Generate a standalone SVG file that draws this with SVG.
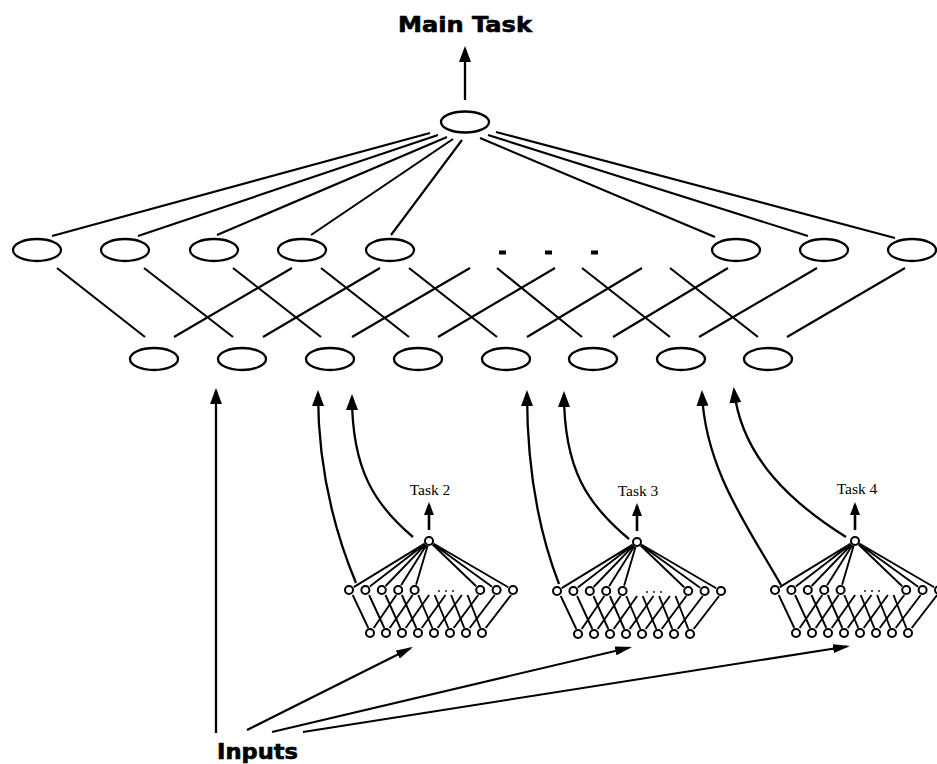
<svg xmlns="http://www.w3.org/2000/svg" xmlns:xlink="http://www.w3.org/1999/xlink" width="937" height="764" viewBox="0 0 937 764">
<style>
.bg{fill:#ffffff}
.node{fill:none;stroke:#000;stroke-width:2.3}
.snode{fill:none;stroke:#000;stroke-width:2}
.edge{fill:none;stroke:#000;stroke-width:2.1}
.sedge{fill:none;stroke:#000;stroke-width:1.9}
.arr{fill:none;stroke:#000;stroke-width:2.3;marker-end:url(#bigArrow)}
.inarr{fill:none;stroke:#000;stroke-width:2.1;marker-end:url(#inArrow)}
.sarr{fill:none;stroke:#000;stroke-width:2.6;marker-end:url(#smallArrow)}
.big{font-family:"DejaVu Sans","Liberation Sans",sans-serif;font-weight:bold;font-size:20.5px;fill:#000;stroke:#000;stroke-width:0.6}
.task{font-family:"Liberation Serif","Times New Roman",serif;font-size:15.5px;fill:#000}
.dot{fill:#000}
</style>
<defs>
<marker id="bigArrow" markerUnits="userSpaceOnUse" markerWidth="16" markerHeight="12" refX="13" refY="6" orient="auto"><path d="M0,0 L16,6 L0,12 z" fill="#000"/></marker>
<marker id="inArrow" markerUnits="userSpaceOnUse" markerWidth="17" markerHeight="9" refX="14" refY="4.5" orient="auto"><path d="M0,0 L17,4.5 L0,9 z" fill="#000"/></marker>
<marker id="smallArrow" markerUnits="userSpaceOnUse" markerWidth="13" markerHeight="10" refX="10" refY="5" orient="auto"><path d="M0,0 L13,5 L0,10 z" fill="#000"/></marker>
<g id="subnet">
<circle class="snode" cx="0" cy="0" r="4"/>
<g class="snode">
<circle cx="-80" cy="49" r="4"/><circle cx="-63.6" cy="49" r="4"/><circle cx="-47.2" cy="49" r="4"/><circle cx="-30.8" cy="49" r="4"/><circle cx="-14.4" cy="49" r="4"/>
<circle cx="51.2" cy="49" r="4"/><circle cx="67.6" cy="49" r="4"/><circle cx="84" cy="49" r="4"/>
<circle cx="-59" cy="92" r="4"/><circle cx="-43" cy="92" r="4"/><circle cx="-27" cy="92" r="4"/><circle cx="-11" cy="92" r="4"/><circle cx="5" cy="92" r="4"/><circle cx="21" cy="92" r="4"/><circle cx="37" cy="92" r="4"/><circle cx="53" cy="92" r="4"/>
</g>
<circle class="dot" cx="10" cy="50" r="0.9"/><circle class="dot" cx="17" cy="50" r="0.9"/><circle class="dot" cx="24" cy="50" r="0.9"/>
<path class="sedge" d="M-4.3,2.6L-75.3,46.1 M-4,3.1L-59.2,45.6 M-3.5,3.6L-43.4,45 M-2.7,4.2L-27.9,44.3 M-1.4,4.8L-12.9,43.7 M3.6,3.5L47.2,45.2 M4,2.9L63.1,45.8 M4.3,2.5L79.2,46.2"/>
<path class="sedge" d="M-76.3,54L-60.7,87 M-59.9,54L-44.7,87 M-43.5,54L-28.7,87 M-27.1,54L-12.7,87 M-10.7,54L3.3,87 M5.7,54L19.3,87 M22.1,54L35.3,87 M38.5,54L51.3,87"/>
<path class="sedge" d="M-32.7,54L-55.3,87 M-16.3,54L-39.3,87 M0.1,54L-23.3,87 M16.5,54L-7.3,87 M32.9,54L8.7,87 M49.3,54L24.7,87 M65.7,54L40.7,87 M82.1,54L56.7,87"/>
<path class="sarr" d="M0,-11 L0,-36"/>
</g>
</defs>
<rect class="bg" x="0" y="0" width="937" height="764"/>

<g id="labels">
<text class="big" x="465" y="32" text-anchor="middle" textLength="134" lengthAdjust="spacingAndGlyphs">Main Task</text>
<text class="big" x="217" y="759" textLength="81" lengthAdjust="spacingAndGlyphs">Inputs</text>
</g>

<g id="node-main"><ellipse class="node" cx="465" cy="122" rx="24" ry="10.5"/></g>

<g id="node-h1"><ellipse class="node" cx="37" cy="250" rx="24" ry="11"/></g>
<g id="node-h2"><ellipse class="node" cx="125" cy="250" rx="24" ry="11"/></g>
<g id="node-h3"><ellipse class="node" cx="214" cy="250" rx="24" ry="11"/></g>
<g id="node-h4"><ellipse class="node" cx="302" cy="250" rx="24" ry="11"/></g>
<g id="node-h5"><ellipse class="node" cx="390" cy="250" rx="24" ry="11"/></g>
<g id="node-h-dots"><rect class="dot" x="499" y="250.5" width="7" height="4"/><rect class="dot" x="545" y="250.5" width="7" height="4"/><rect class="dot" x="591" y="250.5" width="7" height="4"/></g>
<g id="node-h9"><ellipse class="node" cx="736" cy="250" rx="24" ry="11"/></g>
<g id="node-h10"><ellipse class="node" cx="824" cy="250" rx="24" ry="11"/></g>
<g id="node-h11"><ellipse class="node" cx="912" cy="250" rx="24" ry="11"/></g>

<g id="node-l1"><ellipse class="node" cx="154" cy="359" rx="24" ry="11"/></g>
<g id="node-l2"><ellipse class="node" cx="242" cy="359" rx="24" ry="11"/></g>
<g id="node-l3"><ellipse class="node" cx="330" cy="359" rx="24" ry="11"/></g>
<g id="node-l4"><ellipse class="node" cx="418" cy="359" rx="24" ry="11"/></g>
<g id="node-l5"><ellipse class="node" cx="506" cy="359" rx="24" ry="11"/></g>
<g id="node-l6"><ellipse class="node" cx="593" cy="359" rx="24" ry="11"/></g>
<g id="node-l7"><ellipse class="node" cx="681" cy="359" rx="24" ry="11"/></g>
<g id="node-l8"><ellipse class="node" cx="768" cy="359" rx="24" ry="11"/></g>

<g id="node-task2">
<use xlink:href="#subnet" href="#subnet" transform="translate(429,541)"/>
<text class="task" x="430" y="495" text-anchor="middle">Task 2</text>
</g>
<g id="node-task3">
<use xlink:href="#subnet" href="#subnet" transform="translate(637,542)"/>
<text class="task" x="638" y="496" text-anchor="middle">Task 3</text>
</g>
<g id="node-task4">
<use xlink:href="#subnet" href="#subnet" transform="translate(855,541)"/>
<text class="task" x="857" y="494" text-anchor="middle">Task 4</text>
</g>

<g id="connectors">
<path class="arr" d="M465,100 L465,49"/>
<path class="edge" d="M430,133L52,236 M438,135L138,236 M447,137L217,235 M453,139L311,235 M462,140L391,235 M480,138L715,237 M488,135L808,236 M496,132L895,238"/>
<path class="edge" d="M57,268L145,337 M144,268L233,337 M233,268L321,337 M321,268L409,337 M409,268L497,337 M497,268L582,337 M582,268L670,337 M670,268L758,337"/>
<path class="edge" d="M292,268L174,337 M380,268L263,337 M470,268L352,337 M555,268L438,337 M642,268L527,337 M728,268L613,337 M817,268L699,337 M905,268L787,337"/>
<path class="arr" d="M216,733 L216,391"/>
<path class="arr" d="M356,583 C336,535 318,470 318,393"/>
<path class="arr" d="M413,537 C375,505 352,470 352,397"/>
<path class="arr" d="M559,584 C540,535 527,470 527,393"/>
<path class="arr" d="M629,539 C588,505 564,470 564,394"/>
<path class="arr" d="M781,585 C750,530 705,470 702,393"/>
<path class="arr" d="M846,537 C795,505 742,460 734,390"/>
<path class="inarr" d="M247,730 L410.3,648.3"/>
<path class="inarr" d="M272,732 L629.1,647.7"/>
<path class="inarr" d="M303,732 L847,646.5"/>
</g>
</svg>
